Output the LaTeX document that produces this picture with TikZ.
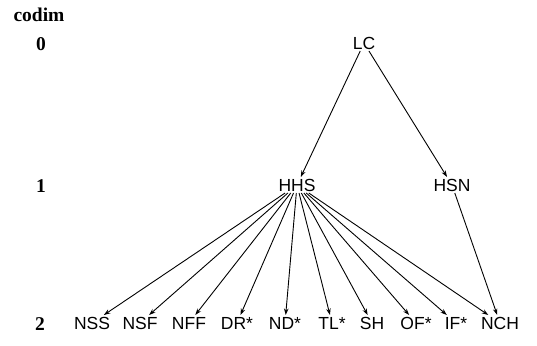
\documentclass[tikz,border=0pt]{standalone}
\usepackage{fontspec}
\setmainfont{Liberation Serif}
\newfontfamily\labfont{Liberation Sans}
\usetikzlibrary{arrows.meta}
\begin{document}
\begin{tikzpicture}[x=1pt,y=-1pt,
  lab/.style={font=\labfont\fontsize{17.5}{18}\selectfont, inner sep=1.5pt, text height=12.6pt, text depth=0pt},
  lev/.style={font=\bfseries\fontsize{19.5}{20}\selectfont, inner sep=0pt},
  arr/.style={line width=0.9pt, -{Stealth[length=6.5pt,width=4.5pt]}}]
\useasboundingbox (0,0) rectangle (537,345);
\node[lev] (codim) at (39,15) {codim};
\node[lev] (l0) at (41,44) {0};
\node[lev] (l1) at (41,186) {1};
\node[lev] (l2) at (40,324) {2};
\node[lab] (lc) at (364,43) {LC};
\node[lab] (hhs) at (297,185) {HHS};
\node[lab] (hsn) at (452,185) {HSN};
\node[lab] (nss) at (92,323) {NSS};
\node[lab] (nsf) at (140,323) {NSF};
\node[lab] (nff) at (189,323) {NFF};
\node[lab] (dr) at (237,323) {DR*};
\node[lab] (nd) at (285,323) {ND*};
\node[lab] (tl) at (332,323) {TL*};
\node[lab] (sh) at (372,323) {SH};
\node[lab] (of) at (416,323) {OF*};
\node[lab] (if) at (456,323) {IF*};
\node[lab] (nch) at (500,323) {NCH};
\draw[arr] (lc) -- (hhs);
\draw[arr] (lc) -- (hsn);
\foreach \t in {nss,nsf,nff,dr,nd,tl,sh,of,if,nch}
  \draw[arr] (hhs) -- (\t);
\draw[arr] (hsn) -- (nch);
\end{tikzpicture}
\end{document}
